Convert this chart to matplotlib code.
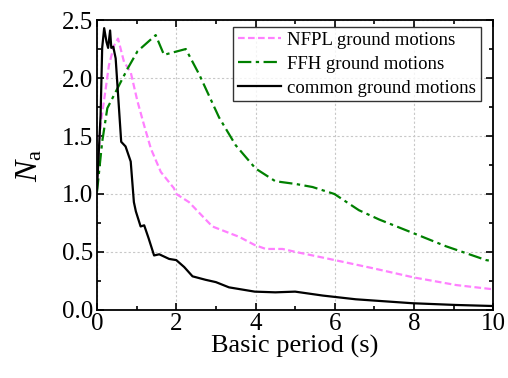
import matplotlib
matplotlib.use('Agg')
import matplotlib.pyplot as plt
from matplotlib.ticker import MultipleLocator

plt.rcParams['font.family'] = ['Liberation Serif', 'DejaVu Serif']
plt.rcParams['mathtext.fontset'] = 'custom'
plt.rcParams['mathtext.rm'] = 'Liberation Serif'
plt.rcParams['mathtext.it'] = 'Liberation Serif:italic'

# common ground motions
common_t = [0.0, 0.09, 0.13, 0.18, 0.24, 0.28, 0.33, 0.36, 0.41, 0.47, 0.61, 0.72, 0.85,
            0.93, 0.98, 1.1, 1.19, 1.3, 1.44, 1.57, 1.82, 2.0, 2.2, 2.41, 2.74, 3.0, 3.33,
            3.98, 4.5, 5.0, 5.7, 6.53, 7.96, 9.06, 10.0]
common_na = [1.05, 1.68, 2.26, 2.43, 2.31, 2.26, 2.41, 2.26, 2.27, 2.17, 1.45, 1.41, 1.28,
             0.93, 0.85, 0.72, 0.73, 0.62, 0.47, 0.48, 0.44, 0.43, 0.37, 0.29, 0.26, 0.24,
             0.195, 0.158, 0.152, 0.158, 0.124, 0.092, 0.058, 0.043, 0.034]

# NFPL ground motions
nfpl_t = [0.0, 0.09, 0.22, 0.3, 0.43, 0.53, 0.68, 0.85, 1.02, 1.19, 1.36, 1.61, 1.94,
          2.0, 2.32, 2.91, 3.59, 3.98, 4.26, 4.68, 5.02, 6.0, 6.96, 8.0, 9.06, 10.0]
nfpl_na = [1.13, 1.6, 1.91, 2.11, 2.28, 2.34, 2.14, 2.05, 1.8, 1.59, 1.39, 1.19, 1.05,
           1.0, 0.93, 0.72, 0.63, 0.56, 0.526, 0.526, 0.5, 0.43, 0.36, 0.28, 0.215, 0.178]

# FFH ground motions
ffh_t = [0.0, 0.13, 0.26, 0.56, 0.77, 1.02, 1.48, 1.69, 2.24, 2.58, 3.08, 3.5, 4.0,
         4.5, 5.02, 5.44, 5.99, 6.61, 7.12, 8.0, 8.8, 9.82, 10.0]
ffh_na = [1.02, 1.45, 1.74, 1.94, 2.08, 2.23, 2.37, 2.2, 2.25, 2.03, 1.66, 1.42, 1.22,
          1.11, 1.086, 1.06, 1.0, 0.86, 0.78, 0.66, 0.55, 0.43, 0.42]

fig = plt.figure(figsize=(5.08, 3.78), dpi=100)
ax = fig.add_axes([0.191, 0.180, 0.780, 0.767])

ax.plot(nfpl_t, nfpl_na, color='#ff80ff', linestyle=(0, (3, 1.5)), lw=1.6,
        label='NFPL ground motions')
ax.plot(ffh_t, ffh_na, color='#008000', linestyle=(0, (6, 2, 1.5, 2)), lw=1.6,
        label='FFH ground motions')
ax.plot(common_t, common_na, color='black', lw=1.6, label='common ground motions')

ax.set_xlim(0, 10)
ax.set_ylim(0, 2.5)
ax.xaxis.set_major_locator(MultipleLocator(2))
ax.xaxis.set_minor_locator(MultipleLocator(1))
ax.yaxis.set_major_locator(MultipleLocator(0.5))
ax.yaxis.set_minor_locator(MultipleLocator(0.25))
ax.yaxis.set_major_formatter(matplotlib.ticker.FormatStrFormatter('%.1f'))
ax.tick_params(which='both', direction='in', top=True, right=True, labelsize=18, width=1.2)
ax.tick_params(which='major', length=5)
ax.tick_params(which='minor', length=3)
ax.tick_params(axis='x', pad=2)
ax.tick_params(axis='y', pad=3)
for s in ax.spines.values():
    s.set_linewidth(1.3)
ax.grid(True, which='major', color='#c8c8c8', linestyle=(0, (2, 2)), lw=0.8)

ax.set_xlabel('Basic period (s)', fontsize=19, labelpad=0)
ax.set_ylabel(r'$N_{\mathrm{a}}$', fontsize=23, labelpad=12)

leg = ax.legend(loc='upper right', bbox_to_anchor=(0.969, 0.976), fontsize=13.5,
                frameon=True, fancybox=False, edgecolor='black', handlelength=2.3,
                handletextpad=0.35, borderpad=0.25, labelspacing=0.36, borderaxespad=0)
leg.get_frame().set_linewidth(1.0)

fig.savefig('out.png', dpi=100)
